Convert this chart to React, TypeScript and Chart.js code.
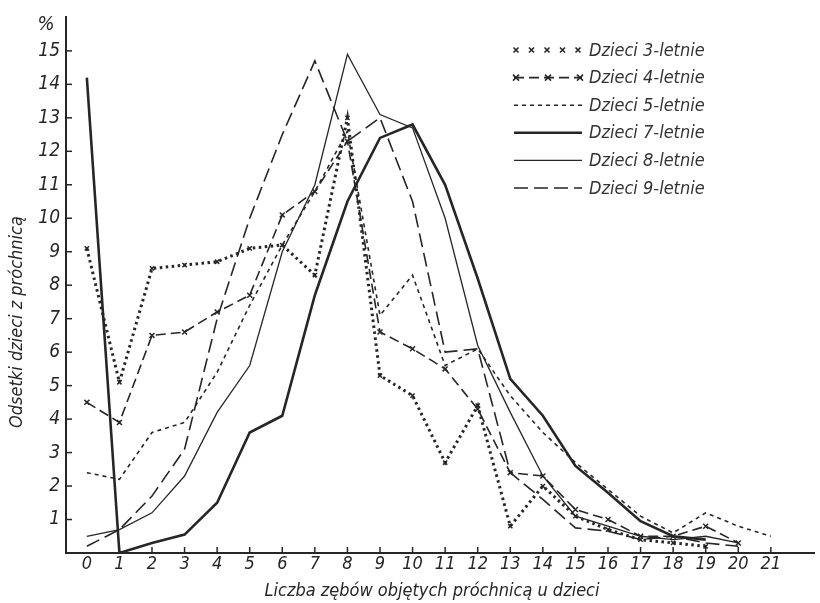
import { useEffect, useRef } from 'react';
import { Chart, registerables } from 'chart.js';

Chart.register(...registerables);

// ---- data ----
const teethCounts = [0, 1, 2, 3, 4, 5, 6, 7, 8, 9, 10, 11, 12, 13, 14, 15, 16, 17, 18, 19, 20, 21];
const kids3 = [9.1, 5.1, 8.5, 8.6, 8.7, 9.1, 9.2, 8.3, 13.0, 5.3, 4.7, 2.7, 4.4, 0.8, 2.0, 1.1, 0.7, 0.4, 0.3, 0.2, null, null];
const kids4 = [4.5, 3.9, 6.5, 6.6, 7.2, 7.7, 10.1, 10.8, 12.3, 6.6, 6.1, 5.5, 4.3, 2.4, 2.3, 1.3, 1.0, 0.5, 0.5, 0.8, 0.3, null];
const kids5 = [2.4, 2.2, 3.6, 3.9, 5.4, 7.4, 9.2, 10.8, 12.6, 7.1, 8.3, 5.6, 6.1, 4.7, 3.6, 2.7, 1.9, 1.1, 0.6, 1.2, 0.8, 0.5];
const kids7 = [14.2, 0, 0.3, 0.55, 1.5, 3.6, 4.1, 7.7, 10.5, 12.4, 12.8, 11.0, 8.2, 5.2, 4.1, 2.6, 1.8, 0.95, 0.5, 0.4, null, null];
const kids8 = [0.5, 0.7, 1.2, 2.3, 4.2, 5.6, 9.0, 11.0, 14.9, 13.1, 12.7, 10.0, 6.2, 4.2, 2.3, 1.1, 0.8, 0.5, 0.4, 0.5, 0.3, null];
const kids9 = [0.2, 0.7, 1.7, 3.1, 7.0, 10.0, 12.5, 14.7, 12.3, 13.0, 10.5, 6.0, 6.1, 2.4, 1.6, 0.75, 0.65, 0.4, 0.5, 0.3, 0.2, null];

const seriesLabels = ['Dzieci 3-letnie', 'Dzieci 4-letnie', 'Dzieci 5-letnie', 'Dzieci 7-letnie', 'Dzieci 8-letnie', 'Dzieci 9-letnie'];
const yTickValues = [1, 2, 3, 4, 5, 6, 7, 8, 9, 10, 11, 12, 13, 14, 15];
const xTitle = 'Liczba zębów objętych próchnicą u dzieci';
const yTitle = 'Odsetki dzieci z próchnicą';
const yUnit = '%';

const INK = '#262626';
const FONT = "'DejaVu Sans Condensed', 'Liberation Sans Narrow', 'DejaVu Sans', sans-serif";

const toPoints = (vals: (number | null)[]) =>
  teethCounts.map((t, i) => ({ x: t, y: vals[i] }));

const drawCross = (ctx: CanvasRenderingContext2D, x: number, y: number, r: number) => {
  ctx.beginPath();
  ctx.moveTo(x - r, y - r);
  ctx.lineTo(x + r, y + r);
  ctx.moveTo(x + r, y - r);
  ctx.lineTo(x - r, y + r);
  ctx.stroke();
};

const decorPlugin = {
  id: 'decor',
  afterDraw(chart: any) {
    const ctx: CanvasRenderingContext2D = chart.ctx;
    const { left, bottom } = chart.chartArea;
    const xs = chart.scales.x;
    const ys = chart.scales.y;
    ctx.save();
    ctx.strokeStyle = INK;
    ctx.fillStyle = INK;
    ctx.lineWidth = 1.5;
    ctx.setLineDash([]);
    // inward tick marks
    yTickValues.forEach((v) => {
      const py = ys.getPixelForValue(v);
      ctx.beginPath();
      ctx.moveTo(left, py);
      ctx.lineTo(left + 6, py);
      ctx.stroke();
    });
    teethCounts.slice(1).forEach((t) => {
      const px = xs.getPixelForValue(t);
      ctx.beginPath();
      ctx.moveTo(px, bottom);
      ctx.lineTo(px, bottom - 6);
      ctx.stroke();
    });
    // unit label
    ctx.font = `italic 20px ${FONT}`;
    ctx.textAlign = 'center';
    ctx.textBaseline = 'middle';
    ctx.fillText(yUnit, 46, 25);
    // axis titles
    ctx.font = `italic 18px ${FONT}`;
    ctx.fillText(xTitle, 432, 591);
    ctx.save();
    ctx.translate(17, 322);
    ctx.rotate(-Math.PI / 2);
    ctx.fillText(yTitle, 0, 0);
    ctx.restore();
    // legend
    const ds = chart.data.datasets;
    ds.forEach((d: any, i: number) => {
      const y = 50 + i * 27.6;
      const x0 = 514;
      const x1 = 582;
      ctx.strokeStyle = INK;
      if (i === 0) {
        ctx.lineWidth = 1.6;
        ctx.setLineDash([]);
        for (let k = 0; k < 5; k++) drawCross(ctx, x0 + 2 + k * 15.5, y, 2.5);
      } else {
        ctx.lineWidth = d.borderWidth;
        ctx.setLineDash(d.borderDash || []);
        ctx.beginPath();
        ctx.moveTo(x0, y);
        ctx.lineTo(x1, y);
        ctx.stroke();
        if (i === 1) {
          ctx.setLineDash([]);
          ctx.lineWidth = 1.5;
          [x0 + 2, (x0 + x1) / 2, x1 - 2].forEach((cx) => drawCross(ctx, cx, y, 3));
        }
      }
      ctx.setLineDash([]);
      ctx.fillStyle = '#333';
      ctx.font = `italic 18px ${FONT}`;
      ctx.textAlign = 'left';
      ctx.fillText(d.label, 589, y + 1);
    });
    ctx.restore();
  },
};

export default function App() {
  const ref = useRef<HTMLCanvasElement>(null);

  useEffect(() => {
    if (!ref.current) return;
    const base = {
      borderColor: INK,
      backgroundColor: INK,
      fill: false,
      tension: 0,
      spanGaps: false,
      pointRadius: 0,
      borderCapStyle: 'butt' as const,
    };
    const chart = new Chart(ref.current, {
      type: 'line',
      data: {
        datasets: [
          {
            ...base,
            label: seriesLabels[0],
            data: toPoints(kids3),
            borderWidth: 3,
            borderDash: [2.5, 3.5],
            pointRadius: 3,
            pointStyle: 'crossRot',
            pointBorderWidth: 1.5,
          },
          {
            ...base,
            label: seriesLabels[1],
            data: toPoints(kids4),
            borderWidth: 1.6,
            borderDash: [10, 5],
            pointRadius: 3.5,
            pointStyle: 'crossRot',
            pointBorderWidth: 1.5,
          },
          { ...base, label: seriesLabels[2], data: toPoints(kids5), borderWidth: 1.6, borderDash: [4, 4] },
          { ...base, label: seriesLabels[3], data: toPoints(kids7), borderWidth: 2.6, borderDash: [] },
          { ...base, label: seriesLabels[4], data: toPoints(kids8), borderWidth: 1.3, borderDash: [] },
          { ...base, label: seriesLabels[5], data: toPoints(kids9), borderWidth: 1.6, borderDash: [14, 6] },
        ],
      },
      options: {
        animation: false,
        responsive: false,
        maintainAspectRatio: false,
        layout: { padding: { top: 13, right: 0, left: 0, bottom: 0 } },
        plugins: { legend: { display: false }, tooltip: { enabled: false } },
        scales: {
          x: {
            type: 'linear',
            min: -0.64,
            max: 22.34,
            grid: { display: false, drawTicks: false },
            border: { display: true, color: INK, width: 2 },
            ticks: {
              stepSize: 1,
              autoSkip: false,
              includeBounds: false,
              maxRotation: 0,
              padding: 1,
              color: INK,
              font: { family: FONT, size: 18, style: 'italic' },
              callback: (v: any) => (Number.isInteger(v) && v >= 0 && v <= 21 ? String(v) : ''),
            },
            afterFit: (s: any) => {
              s.height = 50;
            },
          },
          y: {
            type: 'linear',
            min: 0,
            max: 16,
            grid: { display: false, drawTicks: false },
            border: { display: true, color: INK, width: 2 },
            ticks: {
              stepSize: 1,
              autoSkip: false,
              padding: 6,
              color: INK,
              font: { family: FONT, size: 19, style: 'italic' },
              callback: (v: any) => (yTickValues.includes(v) ? String(v) : ''),
            },
            afterFit: (s: any) => {
              s.width = 66;
            },
          },
        },
      },
      plugins: [decorPlugin],
    });
    return () => chart.destroy();
  }, []);

  return (
    <div style={{ position: 'absolute', left: 0, top: 0, width: 820, height: 603, background: '#fff' }}>
      <canvas ref={ref} width={820} height={603} style={{ width: 820, height: 603, display: 'block' }} />
    </div>
  );
}
